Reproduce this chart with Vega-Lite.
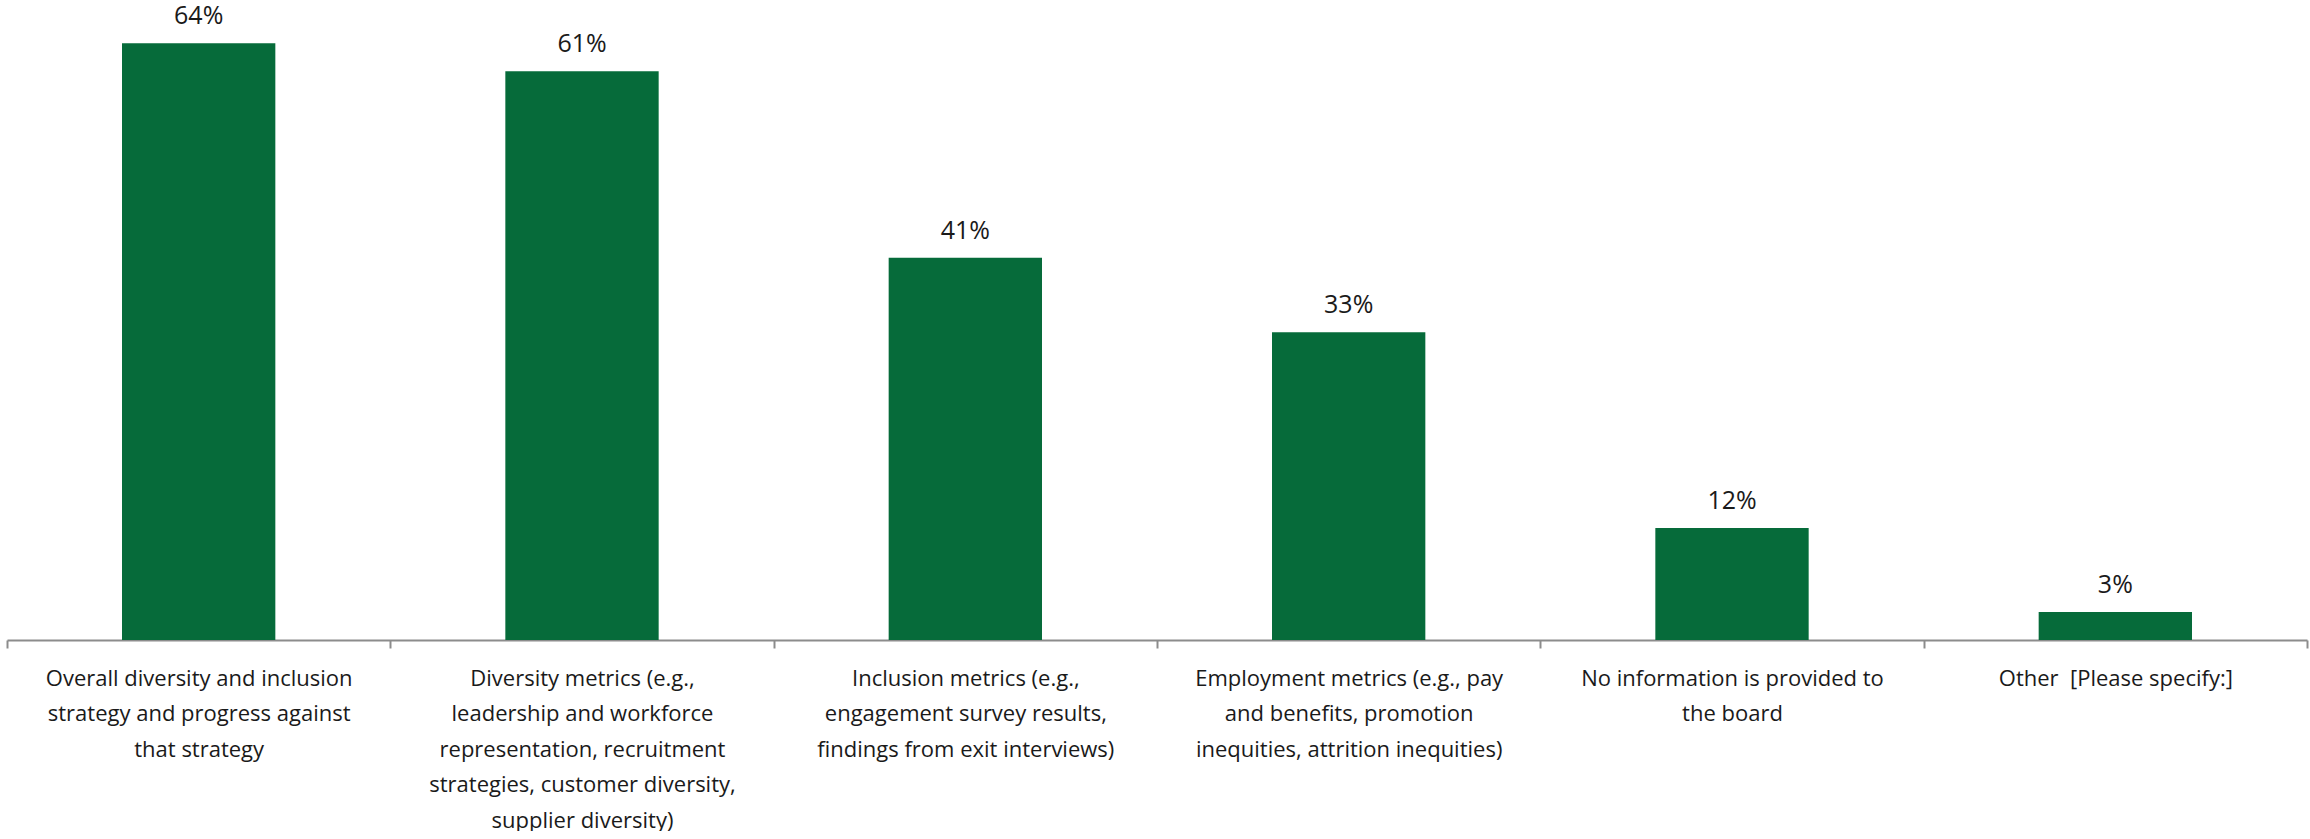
{
  "$schema": "https://vega.github.io/schema/vega-lite/v6.json",
  "width": 2300,
  "height": 636,
  "padding": {"left": 6, "top": 4, "right": 4, "bottom": 0},
  "background": "white",
  "config": {"view": {"stroke": null}, "font": "Open Sans"},
  "data": {
    "values": [
      {"category": "Overall diversity and inclusion|strategy and progress against|that strategy", "value": 0.64},
      {"category": "Diversity metrics (e.g.,|leadership and workforce|representation, recruitment|strategies, customer diversity,|supplier diversity)", "value": 0.61},
      {"category": "Inclusion metrics (e.g.,|engagement survey results,|findings from exit interviews)", "value": 0.41},
      {"category": "Employment metrics (e.g., pay|and benefits, promotion|inequities, attrition inequities)", "value": 0.33},
      {"category": "No information is provided to|the board", "value": 0.12},
      {"category": "Other \u00a0[Please specify:]", "value": 0.03}
    ]
  },
  "encoding": {
    "x": {
      "field": "category",
      "type": "nominal",
      "sort": null,
      "scale": {"paddingInner": 0, "paddingOuter": 0},
      "axis": {
        "title": null,
        "labelAngle": 0,
        "labelExpr": "split(datum.label, '|')",
        "labelFont": "Open Sans",
        "labelFontSize": 22,
        "labelLineHeight": 35.5,
        "labelColor": "#1a1a1a",
        "labelBaseline": "top",
        "labelPadding": 20,
        "labelLimit": 400,
        "tickBand": "extent",
        "tickSize": 8,
        "tickColor": "#8c8c8c",
        "tickWidth": 2,
        "domainColor": "#8c8c8c",
        "domainWidth": 2
      }
    },
    "y": {
      "field": "value",
      "type": "quantitative",
      "scale": {"domain": [0, 0.682], "nice": false, "zero": true},
      "axis": null
    }
  },
  "layer": [
    {"mark": {"type": "bar", "color": "#066b3a", "width": {"band": 0.4}}},
    {
      "mark": {"type": "text", "baseline": "alphabetic", "dy": -19, "fontSize": 25, "font": "Open Sans", "color": "#1a1a1a"},
      "encoding": {"text": {"field": "value", "type": "quantitative", "format": ".0%"}}
    }
  ]
}
